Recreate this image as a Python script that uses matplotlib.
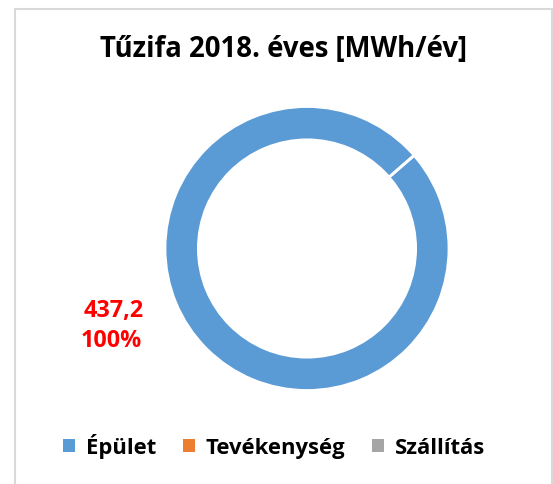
import matplotlib
matplotlib.use("Agg")
import matplotlib.pyplot as plt
from matplotlib.patches import Rectangle

title = "Tűzifa 2018. éves [MWh/év]"
categories = ["Épület", "Tevékenység", "Szállítás"]
values = [437.2, 0.0, 0.0]
colors = ["#5B9BD5", "#ED7D31", "#A5A5A5"]
label_value = "437,2"
label_pct = "100%"

W, H = 553, 485
dpi = 100
fig = plt.figure(figsize=(W / dpi, H / dpi), dpi=dpi)
fam = ["Open Sans", "DejaVu Sans"]

# frame
fig.patches.append(Rectangle((15 / W, -0.05), (552 - 15) / W, (H - 10) / H + 0.05,
                             transform=fig.transFigure, fill=False,
                             edgecolor="#D9D9D9", linewidth=1.5))

cx, cy, r = 307, 249.5, 142
ax = fig.add_axes([(cx - r) / W, 1 - (cy + r) / H, 2 * r / W, 2 * r / H])
ax.pie(values, colors=colors, startangle=41, counterclock=False, radius=1,
       wedgeprops=dict(width=0.235, edgecolor="white", linewidth=2))
ax.set_xlim(-1, 1)
ax.set_ylim(-1, 1)
ax.axis("off")

fig.text(284 / W, 1 - 50 / H, title, ha="center", va="center",
         fontsize=19.8, fontweight="bold", family=fam, color="black")

fig.text(114 / W, 1 - 311 / H, label_value, ha="center", va="center",
         fontsize=16.8, fontweight="bold", family=fam, color="#FF0000")
fig.text(111 / W, 1 - 341 / H, label_pct, ha="center", va="center",
         fontsize=16.8, fontweight="bold", family=fam, color="#FF0000")

handles = [Rectangle((0, 0), 1, 1, facecolor=c, edgecolor="none") for c in colors]
leg = fig.legend(handles, categories, loc="center", bbox_to_anchor=(274 / W, 1 - 447 / H),
                 ncol=3, frameon=False, handlelength=0.55, handleheight=0.55,
                 handletextpad=0.5, columnspacing=1.2,
                 prop=dict(family=fam, weight="bold", size=15.8))

fig.savefig("out.png", dpi=dpi, facecolor="white")
